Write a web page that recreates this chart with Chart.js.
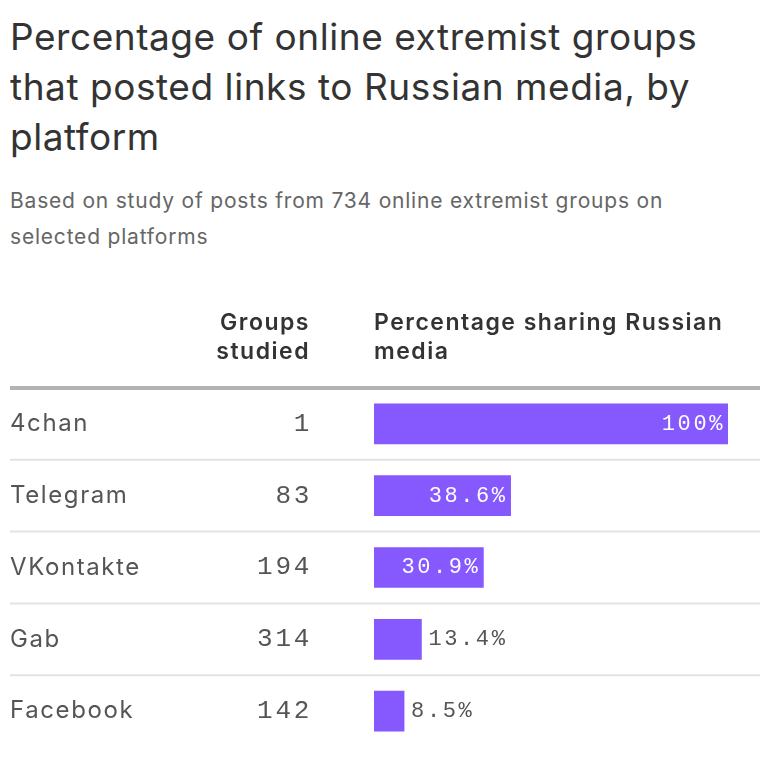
<!DOCTYPE html>
<html>
<head>
<meta charset="utf-8">
<script src="https://cdn.jsdelivr.net/npm/chart.js@4"></script>
<style>
	body { margin: 0; background: #fff; font-family: "Inter", sans-serif; }
	h1 { margin: 0; position: absolute; left: 10px; top: 12px; width: 740px; font-size: 37px; font-weight: 400; line-height: 50px; color: #333; letter-spacing: 0.55px; }
	p { margin: 0; position: absolute; left: 10px; top: 183px; width: 700px; font-size: 21px; line-height: 36px; color: #666; letter-spacing: 0.8px; }
	#wrap { position: absolute; left: 0; top: 280px; width: 770px; height: 478px; }
</style>
</head>
<body>
<h1>Percentage of online extremist groups that posted links to Russian media, by platform</h1>
<p>Based on study of posts from 734 online extremist groups on selected platforms</p>
<div id="wrap"><canvas id="share-canvas"></canvas></div>
<script>
const platforms = ["4chan", "Telegram", "VKontakte", "Gab", "Facebook"];
const groupsStudied = [1, 83, 194, 314, 142];
const shareValues = [100, 38.6, 30.9, 13.4, 8.5];
const shareLabels = ["100%", "38.6%", "30.9%", "13.4%", "8.5%"];

const shareCanvas = document.getElementById("share-canvas").getContext("2d");

const tablePlugin = {
	id: "table",
	beforeDatasetsDraw(chart) {
		const ctx = chart.ctx;
		const y = chart.scales.y;
		const area = chart.chartArea;
		ctx.save();
		// row separators
		ctx.strokeStyle = "#e3e3e3";
		ctx.lineWidth = 2;
		for (let i = 1; i < platforms.length; i++) {
			const py = (y.getPixelForValue(i - 1) + y.getPixelForValue(i)) / 2;
			ctx.beginPath();
			ctx.moveTo(10, py);
			ctx.lineTo(760, py);
			ctx.stroke();
		}
		// header rule
		ctx.strokeStyle = "#b3b3b3";
		ctx.lineWidth = 4;
		ctx.beginPath();
		ctx.moveTo(10, area.top);
		ctx.lineTo(760, area.top);
		ctx.stroke();
		ctx.restore();
	},
	afterDatasetsDraw(chart) {
		const ctx = chart.ctx;
		const y = chart.scales.y;
		const x = chart.scales.x;
		const area = chart.chartArea;
		ctx.save();
		// headers
		ctx.fillStyle = "#333";
		ctx.font = "600 23px Inter";
		ctx.letterSpacing = "1.5px";
		ctx.textBaseline = "middle";
		ctx.textAlign = "right";
		ctx.fillText("Groups", 310, area.top - 65);
		ctx.fillText("studied", 310, area.top - 36);
		ctx.textAlign = "left";
		ctx.fillText("Percentage sharing Russian", area.left, area.top - 65);
		ctx.fillText("media", area.left, area.top - 36);

		platforms.forEach((name, i) => {
			const py = y.getPixelForValue(i);
			ctx.fillStyle = "#555";
			ctx.font = "400 24px Inter";
			ctx.letterSpacing = "1.6px";
			ctx.textAlign = "left";
			ctx.fillText(name, 10, py);
			ctx.font = "400 26px 'Liberation Mono'";
			ctx.letterSpacing = "2.7px";
			ctx.textAlign = "right";
			ctx.fillText(String(groupsStudied[i]), 312, py);

			const end = x.getPixelForValue(shareValues[i]);
			ctx.font = "400 22px 'Liberation Mono'";
			ctx.letterSpacing = "2.6px";
			if (end - area.left > 90) {
				ctx.fillStyle = "#fff";
				ctx.textAlign = "right";
				ctx.fillText(shareLabels[i], end - 3, py);
			} else {
				ctx.fillStyle = "#555";
				ctx.textAlign = "left";
				ctx.fillText(shareLabels[i], end + 7, py);
			}
		});
		ctx.restore();
	},
};

const shareChart = new Chart(shareCanvas, {
	type: "bar",
	data: {
		labels: platforms,
		datasets: [
			{
				data: shareValues,
				backgroundColor: "#8659ff",
				barThickness: 40,
			},
		],
	},
	options: {
		indexAxis: "y",
		animation: false,
		responsive: true,
		maintainAspectRatio: false,
		layout: {
			padding: { left: 374, right: 42, top: 108, bottom: 11 },
		},
		scales: {
			x: { display: false, min: 0, max: 100 },
			y: { display: false },
		},
		plugins: {
			legend: { display: false },
			tooltip: { enabled: false },
		},
	},
	plugins: [tablePlugin],
});
</script>
</body>
</html>
